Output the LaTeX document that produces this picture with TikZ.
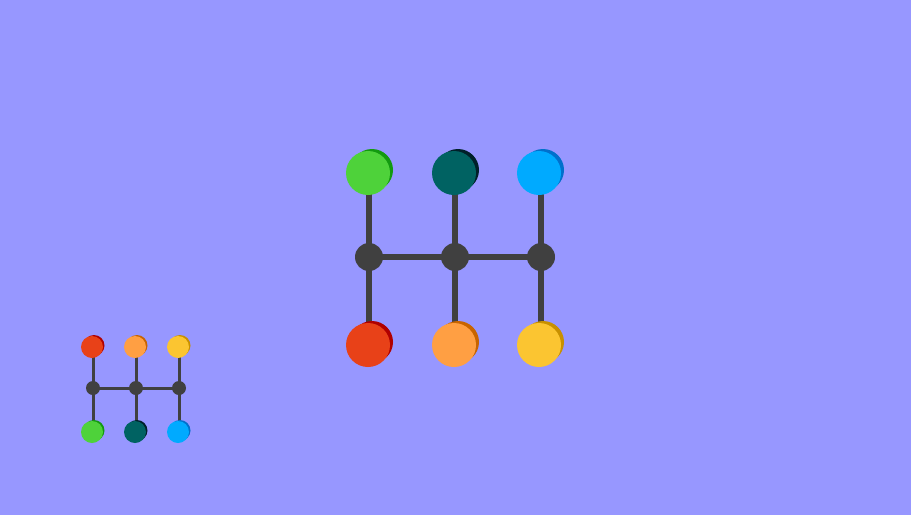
\documentclass[tikz,border=0pt]{standalone}
\begin{document}
\begin{tikzpicture}[x=1pt,y=-1pt,
  hubL/.style={circle,fill=hubgray,minimum size=28pt,inner sep=0pt},
  hubS/.style={circle,fill=hubgray,minimum size=14pt,inner sep=0pt},
  ballL/.style={circle,minimum size=44pt,inner sep=0pt},
  shadL/.style={circle,minimum size=42pt,inner sep=0pt},
  ballS/.style={circle,minimum size=22pt,inner sep=0pt},
  shadS/.style={circle,minimum size=21pt,inner sep=0pt},
  linkL/.style={draw=hubgray,line width=6pt},
  linkS/.style={draw=hubgray,line width=3pt}]
\definecolor{bg}{HTML}{9797FF}
\definecolor{hubgray}{HTML}{404040}
\definecolor{gF}{HTML}{4ED23A}\definecolor{gS}{HTML}{139A10}
\definecolor{tF}{HTML}{006262}\definecolor{tS}{HTML}{00202A}
\definecolor{bF}{HTML}{00AAFF}\definecolor{bS}{HTML}{0070CC}
\definecolor{rF}{HTML}{E84118}\definecolor{rS}{HTML}{B00000}
\definecolor{oF}{HTML}{FF9F43}\definecolor{oS}{HTML}{C86400}
\definecolor{yF}{HTML}{FBC531}\definecolor{yS}{HTML}{C89000}
\fill[bg] (0,0) rectangle (911,515);
\useasboundingbox (0,0) rectangle (911,515);
% large
\coordinate (L1) at (369,257);
\coordinate (L2) at (455,257);
\coordinate (L3) at (541,257);
\coordinate (LT1) at (368,173);
\coordinate (LT2) at (454,173);
\coordinate (LT3) at (539,173);
\coordinate (LB1) at (368,345);
\coordinate (LB2) at (454,345);
\coordinate (LB3) at (539,345);
\path[linkL] (L1) -- (L3);
\path[linkL] (L1 |- LT1) -- (L1) -- (L1 |- LB1);
\path[linkL] (L2 |- LT2) -- (L2) -- (L2 |- LB2);
\path[linkL] (L3 |- LT3) -- (L3) -- (L3 |- LB3);
\node[hubL] (h1) at (L1) {};
\node[hubL] (h2) at (L2) {};
\node[hubL] (h3) at (L3) {};
\node[shadL,fill=gS] (lt1s) at ([shift={(4,-3)}]LT1) {};
\node[ballL,fill=gF] (lt1) at (LT1) {};
\node[shadL,fill=tS] (lt2s) at ([shift={(4,-3)}]LT2) {};
\node[ballL,fill=tF] (lt2) at (LT2) {};
\node[shadL,fill=bS] (lt3s) at ([shift={(4,-3)}]LT3) {};
\node[ballL,fill=bF] (lt3) at (LT3) {};
\node[shadL,fill=rS] (lb1s) at ([shift={(4,-3)}]LB1) {};
\node[ballL,fill=rF] (lb1) at (LB1) {};
\node[shadL,fill=oS] (lb2s) at ([shift={(4,-3)}]LB2) {};
\node[ballL,fill=oF] (lb2) at (LB2) {};
\node[shadL,fill=yS] (lb3s) at ([shift={(4,-3)}]LB3) {};
\node[ballL,fill=yF] (lb3) at (LB3) {};
% small
\coordinate (S1) at (93,388);
\coordinate (S2) at (136,388);
\coordinate (S3) at (179,388);
\coordinate (ST1) at (92,347);
\coordinate (ST2) at (135,347);
\coordinate (ST3) at (178,347);
\coordinate (SB1) at (92,432);
\coordinate (SB2) at (135,432);
\coordinate (SB3) at (178,432);
\path[linkS] (S1) -- (S3);
\path[linkS] (S1 |- ST1) -- (S1) -- (S1 |- SB1);
\path[linkS] (S2 |- ST2) -- (S2) -- (S2 |- SB2);
\path[linkS] (S3 |- ST3) -- (S3) -- (S3 |- SB3);
\node[hubS] (s1) at (S1) {};
\node[hubS] (s2) at (S2) {};
\node[hubS] (s3) at (S3) {};
\node[shadS,fill=rS] (st1s) at ([shift={(2,-1.5)}]ST1) {};
\node[ballS,fill=rF] (st1) at (ST1) {};
\node[shadS,fill=oS] (st2s) at ([shift={(2,-1.5)}]ST2) {};
\node[ballS,fill=oF] (st2) at (ST2) {};
\node[shadS,fill=yS] (st3s) at ([shift={(2,-1.5)}]ST3) {};
\node[ballS,fill=yF] (st3) at (ST3) {};
\node[shadS,fill=gS] (sb1s) at ([shift={(2,-1.5)}]SB1) {};
\node[ballS,fill=gF] (sb1) at (SB1) {};
\node[shadS,fill=tS] (sb2s) at ([shift={(2,-1.5)}]SB2) {};
\node[ballS,fill=tF] (sb2) at (SB2) {};
\node[shadS,fill=bS] (sb3s) at ([shift={(2,-1.5)}]SB3) {};
\node[ballS,fill=bF] (sb3) at (SB3) {};
\end{tikzpicture}
\end{document}
